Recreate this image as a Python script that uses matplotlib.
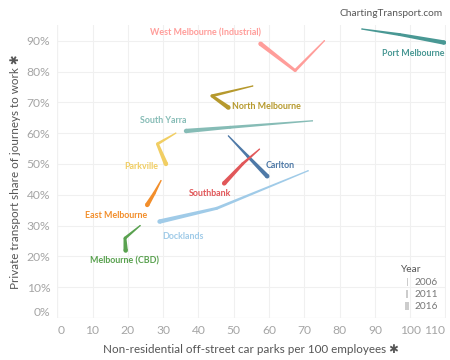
import matplotlib
matplotlib.use("Agg")
import matplotlib.pyplot as plt
from matplotlib.patches import Polygon, Rectangle
import numpy as np

plt.rcParams['font.family'] = ['Lato', 'DejaVu Sans']

areas = ["West Melbourne (Industrial)", "Port Melbourne", "North Melbourne", "South Yarra",
         "Parkville", "Carlton", "Southbank", "Docklands", "East Melbourne", "Melbourne (CBD)"]
years = ["2006", "2011", "2016"]
parks_2006 = [75.7, 86.3, 55.4, 72.3, 33.6, 48.5, 57.3, 71.1, 29.4, 23.5]
parks_2011 = [67.4, 97.0, 43.8, 49.0, 28.4, 54.0, 52.5, 45.2, 27.5, 19.2]
parks_2016 = [57.6, 109.6, 48.5, 36.5, 30.8, 59.5, 47.3, 29.0, 25.5, 19.4]
share_2006 = [90.0, 93.8, 75.3, 64.0, 60.0, 59.1, 54.8, 47.8, 44.6, 30.0]
share_2011 = [80.3, 92.0, 72.1, 61.9, 56.5, 52.5, 50.0, 35.6, 40.5, 25.9]
share_2016 = [89.0, 89.4, 68.3, 60.7, 50.0, 46.0, 43.7, 31.3, 36.7, 21.9]

colors = ["#ff9d9a", "#499894", "#b6992d", "#86bcb6", "#f1ce63",
          "#4e79a7", "#e15759", "#a0cbe8", "#f28e2b", "#59a14f"]
# label anchor positions (data coords) and alignment
label_pos = [(41.9, 92.5, 'center'), (109.8, 86.0, 'right'), (59.3, 68.6, 'center'),
             (30.0, 64.1, 'center'), (23.7, 49.1, 'center'), (63.1, 49.4, 'center'),
             (43.3, 40.5, 'center'), (35.6, 26.6, 'center'), (16.7, 33.4, 'center'),
             (19.2, 18.6, 'center')]
widths_px = [1.3, 2.9, 4.4]

fig = plt.figure(figsize=(4.5, 3.6), dpi=100)
ax = fig.add_axes([57.2 / 450, 1 - 318 / 360, (445.5 - 57.2) / 450, (318 - 25) / 360])
ax.set_xlim(0, 110)
ax.set_ylim(0, 95.1)

ax.set_xticks(np.arange(0, 111, 10))
ax.set_yticks(np.arange(0, 91, 10))
ax.set_yticklabels([f"{v}%" for v in range(0, 91, 10)])
ax.grid(True, color="#f0f0f0", linewidth=0.8)
ax.set_axisbelow(True)
for s in ax.spines.values():
    s.set_visible(False)
ax.axvline(0, color="#e6e6e6", linewidth=0.8, zorder=0.5)
ax.axhline(0, color="#e6e6e6", linewidth=0.8, zorder=0.5)
ax.tick_params(length=0, labelsize=8.7, labelcolor="#a5a5a5", pad=5)

fig.canvas.draw()
tr = ax.transData
inv = tr.inverted()

for i, name in enumerate(areas):
    xs = [parks_2006[i], parks_2011[i], parks_2016[i]]
    ys = [share_2006[i], share_2011[i], share_2016[i]]
    pts = tr.transform(np.column_stack([xs, ys]))
    for k in range(2):
        p0, p1 = pts[k], pts[k + 1]
        d = p1 - p0
        d = d / np.hypot(*d)
        n = np.array([-d[1], d[0]])
        w0, w1 = widths_px[k] / 2, widths_px[k + 1] / 2
        poly = np.array([p0 + n * w0, p1 + n * w1, p1 - n * w1, p0 - n * w0])
        ax.add_patch(Polygon(inv.transform(poly), closed=True, facecolor=colors[i],
                             edgecolor='none', zorder=3))
    ax.scatter(xs, ys, s=[(w * 0.72) ** 2 for w in widths_px], color=colors[i],
               linewidths=0, zorder=3)
    lx, ly, ha = label_pos[i]
    ax.text(lx, ly, name, color=colors[i], fontsize=6.4, fontweight='bold',
            ha=ha, va='center', zorder=4)

# shift edge tick labels inward like the original
xl = ax.get_xticklabels()
xl[0].set_ha('left')
xl[-1].set_ha('right')
yl = ax.get_yticklabels()
yl[0].set_va('bottom')

ax.set_xlabel("Non-residential off-street car parks per 100 employees \u2731",
              fontsize=8.4, color="#555555", labelpad=6)
ax.set_ylabel("Private transport share of journeys to work \u2731",
              fontsize=8.4, color="#555555", labelpad=4)

fig.text(443 / 450, 1 - 13 / 360, "ChartingTransport.com", ha='right', va='center',
         fontsize=7.3, color="#555555")

# size legend
fig.text(400 / 450, 1 - 270 / 360, "Year", ha='left', va='center', fontsize=7.3, color="#555555")
for j, yr in enumerate(years):
    yc = 282.3 + j * 11.9
    w = [1.0, 2.0, 3.5][j]
    fig.add_artist(Rectangle(((407 - w / 2) / 450, 1 - (yc + 4) / 360), w / 450, 8 / 360,
                             transform=fig.transFigure, facecolor="#cccccc", edgecolor='none'))
    fig.text(415 / 450, 1 - yc / 360, yr, ha='left', va='center', fontsize=7.3, color="#777777")

fig.savefig("out.png", dpi=100)
